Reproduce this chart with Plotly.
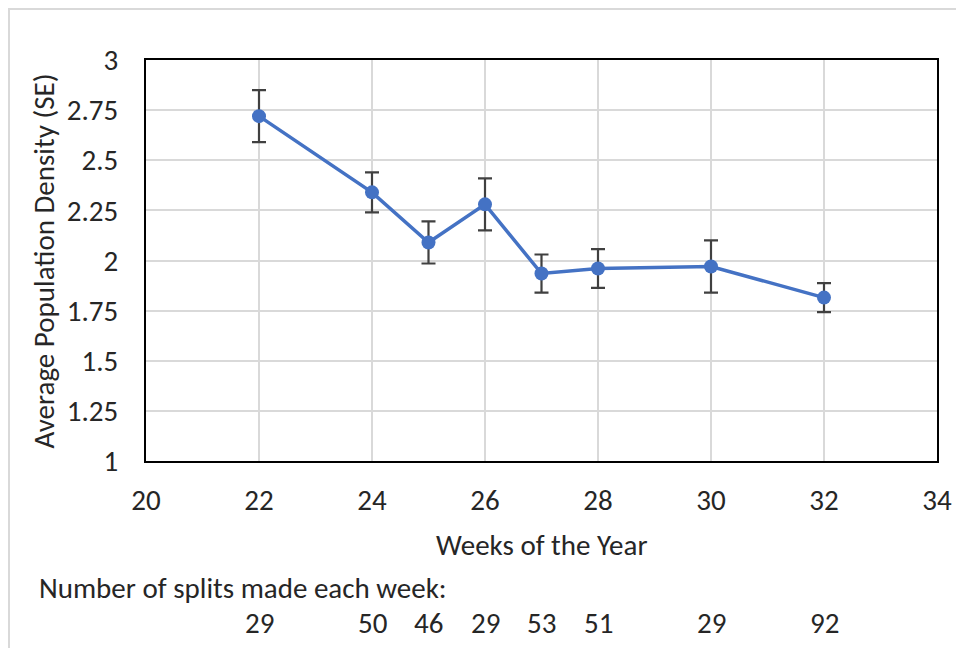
import plotly.graph_objects as go

# Weekly averages with standard errors
weeks = [22, 24, 25, 26, 27, 28, 30, 32]
density = [2.72, 2.34, 2.09, 2.28, 1.935, 1.96, 1.97, 1.815]
se = [0.13, 0.10, 0.105, 0.13, 0.095, 0.097, 0.13, 0.072]
splits = [29, 50, 46, 29, 53, 51, 29, 92]

x_ticks = [20, 22, 24, 26, 28, 30, 32, 34]
y_ticks = [1, 1.25, 1.5, 1.75, 2, 2.25, 2.5, 2.75, 3]

FONT = "Carlito, Calibri, Lato, sans-serif"
FS = 29
TEXT = "#262626"
BLUE = "#4472C4"
GRID = "#d9d9d9"

fig = go.Figure()
fig.add_trace(go.Scatter(
    x=weeks, y=density,
    mode="lines+markers",
    line=dict(color=BLUE, width=3.5),
    marker=dict(color=BLUE, size=14),
    error_y=dict(type="data", array=se, visible=True,
                 color="#404040", thickness=2.2, width=7),
    showlegend=False,
))

annotations = [
    dict(text="Weeks of the Year", x=0.5, y=-0.21, xref="paper", yref="paper",
         showarrow=False, xanchor="center", yanchor="middle",
         font=dict(size=FS, color=TEXT, family=FONT)),
    dict(text="Average Population Density (SE)", x=-0.129, y=0.5,
         xref="paper", yref="paper", textangle=-90, showarrow=False,
         xanchor="center", yanchor="middle",
         font=dict(size=FS, color=TEXT, family=FONT)),
    dict(text="Number of splits made each week:", x=-0.138, y=-0.317,
         xref="paper", yref="paper", showarrow=False,
         xanchor="left", yanchor="middle",
         font=dict(size=FS, color=TEXT, family=FONT)),
]
for w, n in zip(weeks, splits):
    annotations.append(dict(
        text=str(n), x=w, y=-0.405, xref="x", yref="paper",
        showarrow=False, xanchor="center", yanchor="middle",
        font=dict(size=FS, color=TEXT, family=FONT)))

fig.update_layout(
    width=956, height=648,
    margin=dict(l=146, r=19, t=60, b=187),
    paper_bgcolor="white", plot_bgcolor="white",
    font=dict(family=FONT, size=FS, color=TEXT),
    xaxis=dict(range=[20, 34], tickvals=x_ticks, showgrid=True,
               gridcolor=GRID, gridwidth=2, zeroline=False,
               showline=True, linecolor="black", linewidth=2, mirror=True,
               ticks="", ticklabelstandoff=12, automargin=False,
               ticklabeloverflow="allow",
               tickfont=dict(size=FS, color=TEXT, family=FONT)),
    yaxis=dict(range=[1, 3], tickvals=y_ticks, showgrid=True,
               gridcolor=GRID, gridwidth=2, zeroline=False,
               showline=True, linecolor="black", linewidth=2, mirror=True,
               ticks="", ticklabelstandoff=20, automargin=False,
               ticklabeloverflow="allow",
               tickfont=dict(size=FS, color=TEXT, family=FONT)),
    annotations=annotations,
    shapes=[dict(type="rect", xref="paper", yref="paper",
                 x0=-0.1732, x1=1.04, y0=-0.48, y1=1.127,
                 line=dict(color=GRID, width=2), layer="below")],
)

fig.write_html("out.html")
